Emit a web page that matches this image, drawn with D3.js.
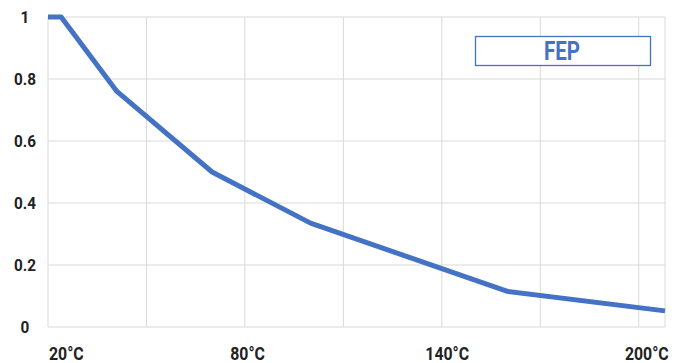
<!DOCTYPE html>
<html>
<head>
<meta charset="utf-8">
<script src="https://cdn.jsdelivr.net/npm/d3@7"></script>
<style>
  html, body { margin: 0; padding: 0; background: #fff; }
  svg { display: block; }
  text { font-family: "Roboto", "Liberation Sans", sans-serif; font-weight: bold; }
</style>
</head>
<body>
<svg id="chart" width="675" height="363"></svg>
<script>
// Data
const temperatures = [20, 24, 41, 70, 100, 160, 208];
const factors = [1, 1, 0.76, 0.50, 0.335, 0.115, 0.052];
const seriesName = "FEP";
const yTicks = [0, 0.2, 0.4, 0.6, 0.8, 1];
const yTickLabels = ["0", "0.2", "0.4", "0.6", "0.8", "1"];
const xGridTicks = [20, 50, 80, 110, 140, 170, 200];
const xLabelTicks = [20, 80, 140, 200];
const xTickLabels = ["20°C", "80°C", "140°C", "200°C"];

const svg = d3.select("#chart");
const mLeft = 48, mRight = 665, mTop = 17, mBottom = 327;
const x = d3.scaleLinear().domain([20, 208]).range([mLeft, mRight]);
const y = d3.scaleLinear().domain([0, 1]).range([mBottom, mTop]);

const gridColor = "#d9d9d9";
const blue = "#4472c4";

// horizontal gridlines
svg.append("g").selectAll("line").data(yTicks).join("line")
  .attr("x1", mLeft).attr("x2", mRight)
  .attr("y1", d => y(d)).attr("y2", d => y(d))
  .attr("stroke", gridColor).attr("stroke-width", 1);

// vertical gridlines
svg.append("g").selectAll("line").data(xGridTicks.concat([208])).join("line")
  .attr("x1", d => x(d)).attr("x2", d => x(d))
  .attr("y1", mTop).attr("y2", mBottom)
  .attr("stroke", gridColor).attr("stroke-width", 1);

// y labels (condensed)
svg.append("g").selectAll("g").data(yTicks).join("g")
  .attr("transform", d => `translate(25,${y(d)}) scale(0.9,1)`)
  .append("text")
  .attr("dy", "0.36em")
  .attr("text-anchor", "middle")
  .attr("font-size", 17)
  .attr("fill", "#222")
  .text((d, i) => yTickLabels[i]);

// x labels (condensed)
svg.append("g").selectAll("g").data(xLabelTicks).join("g")
  .attr("transform", (d, i) => `translate(${i === 0 ? x(d) + 1 : x(d) + (d - 20) * 0.045},360) scale(0.88,1)`)
  .append("text")
  .attr("text-anchor", (d, i) => i === 0 ? "start" : "middle")
  .attr("font-size", 18)
  .attr("fill", "#222")
  .text((d, i) => xTickLabels[i]);

// line
const pts = temperatures.map((t, i) => [t, factors[i]]);
svg.append("path")
  .datum(pts)
  .attr("fill", "none")
  .attr("stroke", blue)
  .attr("stroke-width", 5)
  .attr("stroke-linejoin", "round")
  .attr("d", d3.line().x(d => x(d[0])).y(d => y(d[1])));

// legend box
svg.append("rect")
  .attr("x", 475.5).attr("y", 36.5)
  .attr("width", 175).attr("height", 29)
  .attr("fill", "#fff")
  .attr("stroke", blue).attr("stroke-width", 1.3);
svg.append("g")
  .attr("transform", "translate(562,60) scale(0.82,1)")
  .append("text")
  .attr("text-anchor", "middle")
  .attr("font-size", 25)
  .attr("fill", blue)
  .text(seriesName);
</script>
</body>
</html>
